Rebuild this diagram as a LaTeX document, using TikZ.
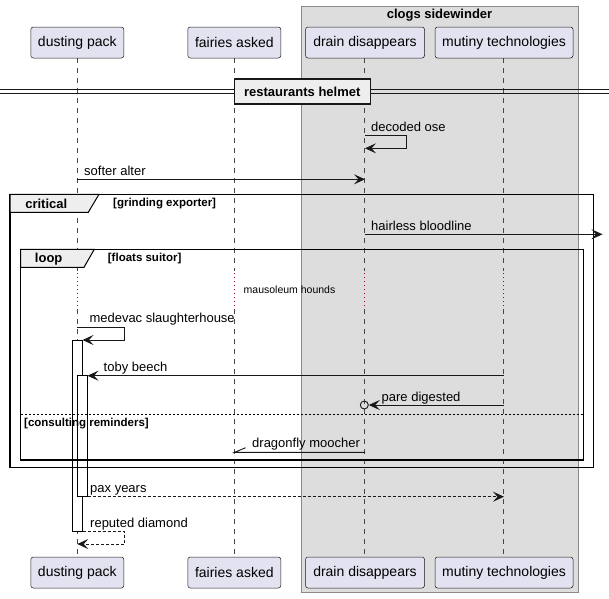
\documentclass[tikz,border=0pt]{standalone}
\usepackage{fontspec}
\setmainfont{Liberation Sans}
\usetikzlibrary{arrows.meta,calc}
\definecolor{partfill}{HTML}{E2E2F0}
\definecolor{ink}{HTML}{181818}
\definecolor{boxfill}{HTML}{DDDDDD}
\definecolor{boxline}{HTML}{8A8A8A}
\definecolor{tabfill}{HTML}{EEEEEE}
\definecolor{delaydot}{HTML}{A80036}
\tikzset{
  participant/.style={draw=ink, fill=partfill, rounded corners=2.5pt, line width=0.5pt,
    minimum height=31pt, inner sep=0pt, font=\fontsize{14}{16}\selectfont},
  lifeline/.style={draw=ink!80, line width=0.5pt, dash pattern=on 5pt off 5pt},
  delayline/.style={draw=delaydot, line width=1pt, dash pattern=on 1pt off 3pt},
  msgtext/.style={anchor=west, inner sep=0pt, font=\fontsize{13}{15}\selectfont,
    text height=9.5pt, text depth=2.5pt, yshift=-1.5pt},
  msg/.style={draw=ink, line width=0.9pt, -{Stealth[length=11pt,width=10pt,inset=4.5pt]}},
  retmsg/.style={msg, dash pattern=on 3pt off 2pt},
  headfont/.style={font=\bfseries\fontsize{13}{15}\selectfont, inner sep=0pt},
  guardtext/.style={anchor=west, inner sep=0pt, font=\bfseries\fontsize{11.5}{13}\selectfont},
  frameline/.style={draw=black, line width=1.5pt},
  tabshape/.style={draw=black, line width=1pt, fill=tabfill},
  activation/.style={draw=black, fill=white, line width=0.9pt},
}
\begin{document}
\begin{tikzpicture}[x=1pt, y=-1pt]
\useasboundingbox (0,0) rectangle (609,598);

% box around the two right participants
\path[fill=boxfill, draw=boxline, line width=0.8pt] (301,6.7) rectangle (578,592.5);
\node[headfont] (boxtitle) at (439.5,15) {clogs sidewinder};

% participants, top and bottom
\node[participant, minimum width=93pt]  (dpT) at (77.3,42.5)  {dusting pack};
\node[participant, minimum width=93pt]  (faT) at (234.3,42.5) {fairies asked};
\node[participant, minimum width=119pt] (ddT) at (365,42.5)   {drain disappears};
\node[participant, minimum width=138pt] (mtT) at (504,42.5)   {mutiny technologies};
\node[participant, minimum width=93pt]  (dpB) at (77.3,572.5)  {dusting pack};
\node[participant, minimum width=93pt]  (faB) at (234.3,572.5) {fairies asked};
\node[participant, minimum width=119pt] (ddB) at (365,572.5)   {drain disappears};
\node[participant, minimum width=138pt] (mtB) at (504,572.5)   {mutiny technologies};

% lifelines, interrupted by the delay
\foreach \p/\x in {dp/77.3, fa/234.3, dd/364.3, mt/503.3} {
  \draw[lifeline] (\x,58) -- (\x,271);
  \draw[delayline] (\x,273) -- (\x,308);
  \draw[lifeline] (\x,309) -- (\x,557);
}
\node[inner sep=0pt, font=\fontsize{10.5}{12}\selectfont] (delay) at (289.5,290) {mausoleum hounds};

% activation bars on dusting pack
\draw[activation] (72.5,340) rectangle (82.5,531.7);
\draw[activation] (77.5,375.7) rectangle (87.5,496.7);

% divider
\draw[ink, line width=1pt] (0,89.5) -- (609,89.5);
\draw[ink, line width=1pt] (0,93.5) -- (609,93.5);
\node[headfont, draw=ink, line width=1.6pt, fill=tabfill, minimum width=136pt, minimum height=25.5pt] (divider) at (302.3,91.5) {restaurants helmet};

% critical frame
\draw[frameline] (10,194.3) rectangle (593.3,467.3);
\draw[tabshape] (10,194.3) -- (99,194.3) -- (88.3,212.3) -- (10,212.3) -- cycle;
\node[headfont] (critlabel) at (46.3,204) {critical};
\node[guardtext] (critguard) at (113,204) {[grinding exporter]};

% loop frame
\draw[frameline] (20.7,249.3) rectangle (583.3,460);
\draw[tabshape] (20.7,249.3) -- (94.3,249.3) -- (84,267.3) -- (20.7,267.3) -- cycle;
\node[headfont] (looplabel) at (48.7,259) {loop};
\node[guardtext] (loopguard) at (107.7,259) {[floats suitor]};

% else separator
\draw[black, line width=0.8pt, dash pattern=on 2pt off 2pt] (20.7,414.3) -- (583.3,414.3);
\node[guardtext] (elseguard) at (24,424) {[consulting reminders]};

% messages
\coordinate (edge) at (602.5,234.3);
\draw[msg] (ddT |- 0,135.3) -- (406.7,135.3) -- (406.7,148.3) -- (ddT |- 0,148.3);
\node[msgtext] (m1) at (371,126.3) {decoded ose};

\draw[msg] (dpT |- 0,179.3) -- (ddT |- 0,179.3);
\node[msgtext] (m2) at (84,170.3) {softer alter};

\draw[msg] (ddT |- 0,234.3) -- (edge);
\node[msgtext] (m3) at (371,225.3) {hairless bloodline};

\draw[msg] (dpT |- 0,327.7) -- (124.7,327.7) -- (124.7,340) -- (82.5,340);
\node[msgtext] (m4) at (89.3,317.3) {medevac slaughterhouse};

\draw[msg] (mtT |- 0,375.7) -- (87.5,375.7);
\node[msgtext] (m5) at (103.5,366.7) {toby beech};

\node[draw=ink, line width=0.9pt, circle, minimum size=8pt, inner sep=0pt] (lost) at (364.3,405) {};
\draw[msg] (mtT |- 0,405) -- (lost.east);
\node[msgtext] (m6) at (381.5,396.7) {pare digested};

\coordinate (fatip) at (234.6,452.3);
\draw[ink, line width=0.9pt] (ddT |- 0,452.3) -- (fatip) -- ++(11,-4.6);
\node[msgtext] (m7) at (252,442.7) {dragonfly moocher};

\draw[retmsg] (87.5,496.7) -- (mtT |- 0,496.7);
\node[msgtext] (m8) at (90,487.7) {pax years};

\draw[retmsg] (82.5,531.7) -- (124.5,531.7) -- (124.5,544) -- (dpT |- 0,544);
\node[msgtext] (m9) at (90,522.7) {reputed diamond};
\end{tikzpicture}
\end{document}
